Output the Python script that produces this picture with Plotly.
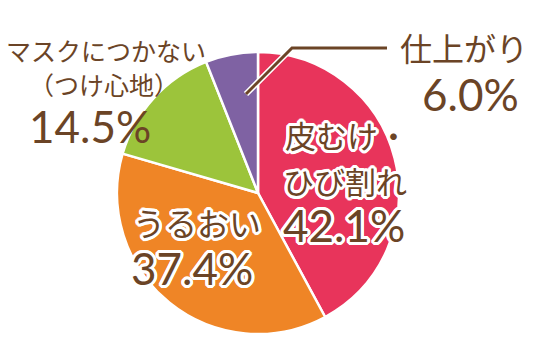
import plotly.graph_objects as go

W, H = 551, 338

labels = ["皮むけ・ひび割れ", "うるおい", "マスクにつかない（つけ心地）", "仕上がり"]
values = [42.1, 37.4, 14.5, 6.0]
colors = ["#E8345B", "#EF8526", "#9CC43B", "#7F62A3"]
value_text = ["42.1%", "37.4%", "14.5%", "6.0%"]

BROWN = "#6B4426"
JP = "Noto Sans CJK JP"
NUM = "Lato"
OUTLINE = ", ".join(f"{dx}px {dy}px 0px #ffffff" for dx, dy in
                    [(3, 0), (-3, 0), (0, 3), (0, -3), (2, 2), (-2, -2), (2, -2), (-2, 2),
                     (3, 1), (-3, -1), (1, 3), (-1, -3), (3, -1), (-3, 1), (1, -3), (-1, 3)])

cx, cy, r = 258, 193, 141

fig = go.Figure(go.Pie(
    labels=labels, values=values, sort=False, direction="clockwise", rotation=0,
    marker=dict(colors=colors, line=dict(color="#ffffff", width=2.5)),
    textinfo="none", hoverinfo="skip", showlegend=False,
    domain=dict(x=[(cx - r) / W, (cx + r) / W], y=[(H - cy - r) / H, (H - cy + r) / H]),
))


def px(x, y):
    return x / W, 1 - y / H


def label(text, x, y, size, family=JP, outline=False, xanchor="center"):
    ax, ay = px(x, y)
    font = dict(family=family, size=size, color=BROWN)
    if outline:
        font["shadow"] = OUTLINE
    fig.add_annotation(x=ax, y=ay, xref="paper", yref="paper", text=text,
                       showarrow=False, font=font, xanchor=xanchor, yanchor="middle")


label("仕上がり", 464, 47, 32)
label(value_text[3], 470, 94, 44, NUM)
label("マスクにつかない", 106, 50, 25)
label("（つけ心地）", 104, 84, 25)
label(value_text[2], 90, 126, 44, NUM)
label("皮むけ・", 283, 135, 31, JP, True, "left")
label("ひび割れ", 281, 180, 31, JP, True, "left")
label(value_text[0], 281, 225, 44, NUM, True, "left")
label("うるおい", 131, 222, 32, JP, True, "left")
label(value_text[1], 129, 268, 44, NUM, True, "left")

pts = [(387, 48), (292, 48), (246, 94)]
path = "M " + " L ".join(f"{px(x, y)[0]},{px(x, y)[1]}" for x, y in pts)
fig.add_shape(type="path", path=path, xref="paper", yref="paper",
              line=dict(color="#ffffff", width=6))
fig.add_shape(type="path", path=path, xref="paper", yref="paper",
              line=dict(color=BROWN, width=3))

fig.update_layout(width=W, height=H, margin=dict(l=0, r=0, t=0, b=0),
                  paper_bgcolor="#ffffff", plot_bgcolor="#ffffff")

fig.write_html("out.html")
